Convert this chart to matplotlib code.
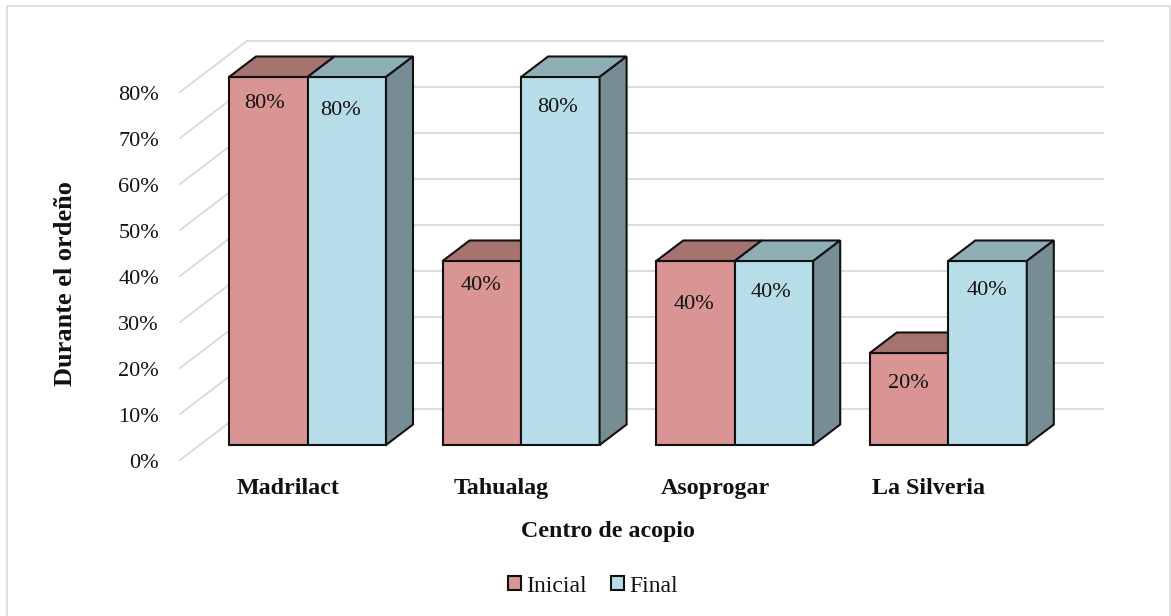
import matplotlib
matplotlib.use("Agg")
import matplotlib.pyplot as plt
from matplotlib.patches import Polygon, Rectangle, Patch
from matplotlib.transforms import Affine2D

categories = ["Madrilact", "Tahualag", "Asoprogar", "La Silveria"]
inicial = [80, 40, 40, 20]
final = [80, 80, 40, 40]
y_ticks = [0, 10, 20, 30, 40, 50, 60, 70, 80]

RED, RED_TOP = "#D99594", "#A6736F"
BLUE, BLUE_TOP, BLUE_SIDE = "#B7DEE8", "#8FADB5", "#768D94"
GRID = "#D9D9D9"
INK = "#111111"
W, H = 1171, 616
plt.rcParams["font.family"] = ["Liberation Serif", "DejaVu Serif"]

fig = plt.figure(figsize=(W / 100, H / 100), dpi=100, facecolor="white")
fig.add_artist(Rectangle((6.5 / W, 1 - 625 / H), 1163.5 / W, 619 / H, transform=fig.transFigure,
                         fill=False, ec=GRID, lw=1.1))

# axes frame in pixels; the data scale is chosen so bar fronts land on the reference
L, R, T, B = 180, 1104, 30, 460
ax = fig.add_axes([L / W, 1 - B / H, (R - L) / W, (B - T) / H])
PX_X, PX_Y = 213.6, 4.6
ORIGIN_X, ORIGIN_Y = 307.5, 445
ax.set_xlim((L - ORIGIN_X) / PX_X, (R - ORIGIN_X) / PX_X)
ax.set_ylim((ORIGIN_Y - B) / PX_Y, (ORIGIN_Y - T) / PX_Y)
ax.patch.set_alpha(0)
for s in ax.spines.values():
    s.set_visible(False)

# walls: front of the floor is 15 px below the bars, back is 36 px above them
front = ax.transData + Affine2D().translate(-127.5, -15)
back = ax.transData + Affine2D().translate(-60.5, 36)
for v in y_ticks:
    p0 = front.transform((0, v))
    p1 = back.transform((0, v))
    ax.plot([p0[0], p1[0]], [p0[1], p1[1]], color=GRID, lw=1.3, transform=None, zorder=1, clip_on=False)
    ax.plot([p1[0], R - 1], [p1[1], p1[1]], color=GRID, lw=1.3, transform=None, zorder=1, clip_on=False)

# bars
BW = 78.5 / PX_X
DX, DY = 27 / PX_X, 20.5 / PX_Y
edge = dict(edgecolor=INK, linewidth=1.5, joinstyle="miter")
inicial_lab = [(-4, 27), (-1, 25), (-1, 44), (-1, 31)]
final_lab = [(-6, 34), (-3, 31), (-3, 32), (-1, 30)]
for i, (a, b) in enumerate(zip(inicial, final)):
    z = 3 + i
    ax.bar(i - BW / 2, a, BW, color=RED, zorder=z, **edge)
    ax.add_patch(Polygon([(i - BW, a), (i, a), (i + DX, a + DY), (i - BW + DX, a + DY)],
                         facecolor=RED_TOP, zorder=z, **edge))
    ax.bar(i + BW / 2, b, BW, color=BLUE, zorder=z + 0.1, **edge)
    ax.add_patch(Polygon([(i, b), (i + BW, b), (i + BW + DX, b + DY), (i + DX, b + DY)],
                         facecolor=BLUE_TOP, zorder=z + 0.1, **edge))
    ax.add_patch(Polygon([(i + BW, 0), (i + BW + DX, DY), (i + BW + DX, b + DY), (i + BW, b)],
                         facecolor=BLUE_SIDE, zorder=z + 0.1, **edge))
    ax.annotate(f"{a}%", (i - BW / 2, a), xytext=(inicial_lab[i][0] * 0.72, -inicial_lab[i][1] * 0.72),
                textcoords="offset points", ha="center", va="center", fontsize=16, zorder=20, color=INK)
    ax.annotate(f"{b}%", (i + BW / 2, b), xytext=(final_lab[i][0] * 0.72, -final_lab[i][1] * 0.72),
                textcoords="offset points", ha="center", va="center", fontsize=16, zorder=20, color=INK)

# ticks
ax.set_yticks(y_ticks)
ax.set_yticklabels([f"{v}%" for v in y_ticks], fontsize=16, color=INK)
ax.set_xticks(range(len(categories)))
ax.set_xticklabels(categories, fontsize=17.3, fontweight="bold", color=INK)
ax.tick_params(axis="both", length=0, pad=0)
for lab in ax.get_yticklabels():
    lab.set_transform(lab.get_transform() + Affine2D().translate(-21, -16.5))
for lab in ax.get_xticklabels():
    lab.set_transform(lab.get_transform() + Affine2D().translate(-19.5, -18))

fig.text(65 / W, 1 - 283.5 / H, "Durante el ordeño", rotation=90, ha="center", va="center",
         fontsize=19, fontweight="bold", color=INK)
fig.text(608 / W, 1 - 531 / H, "Centro de acopio", ha="center", va="center",
         fontsize=17.2, fontweight="bold", color=INK)
handles = [Patch(facecolor=RED, edgecolor=INK, lw=1.5, label="Inicial"),
           Patch(facecolor=BLUE, edgecolor=INK, lw=1.5, label="Final")]
fig.legend(handles=handles, loc="center", bbox_to_anchor=(593 / W, 1 - 586 / H), ncol=2, frameon=False,
           fontsize=17, handlelength=0.55, handleheight=0.55, handletextpad=0.22, columnspacing=1.0,
           labelcolor=INK)
fig.savefig("out.png", dpi=100)
